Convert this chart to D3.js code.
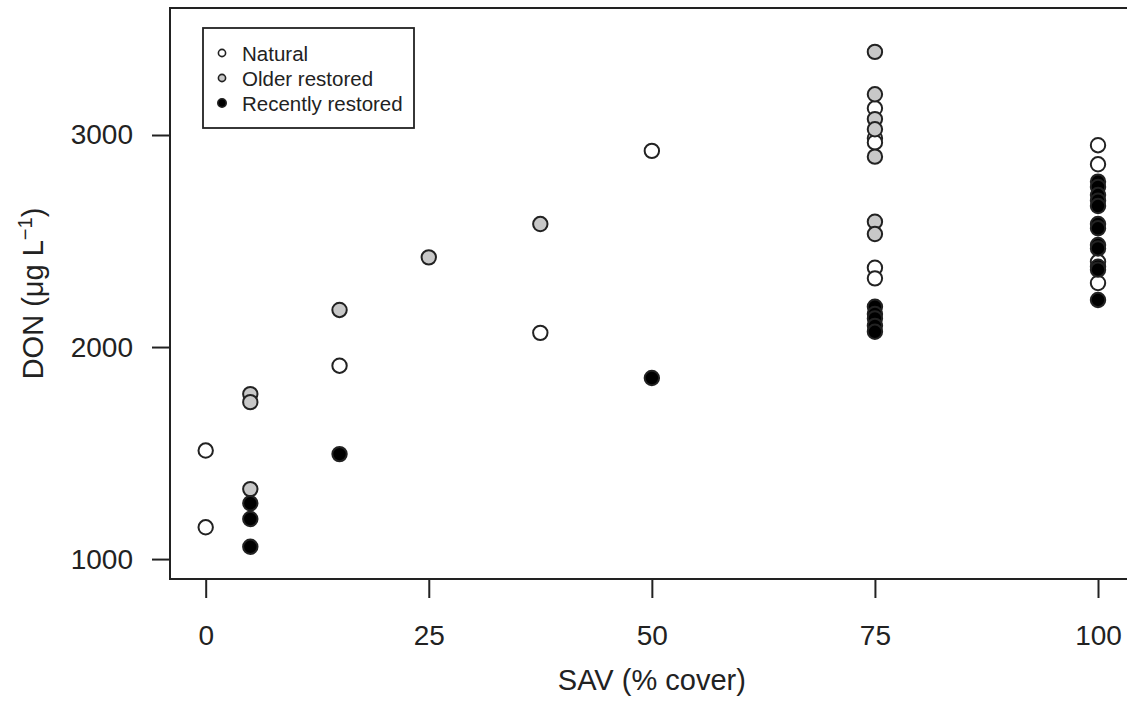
<!DOCTYPE html>
<html>
<head>
<meta charset="utf-8">
<script src="https://cdn.jsdelivr.net/npm/d3@7"></script>
<style>
  html, body { margin: 0; padding: 0; background: #fff; }
  svg { display: block; font-family: "Liberation Sans", Arial, sans-serif; }
</style>
</head>
<body>
<svg id="chart" width="1127" height="702"></svg>
<script>
// SAV cover (%) and DON (µg/L) for each site type
const naturalX = [0, 0, 15, 37.5, 50, 75, 75, 75, 75, 75, 100, 100, 100, 100];
const naturalY = [1512, 1150, 1912, 2067, 2925, 3126, 2985, 2965, 2374, 2324, 2952, 2862, 2402, 2302];

const olderX = [5, 5, 5, 15, 25, 37.5, 75, 75, 75, 75, 75, 75, 75];
const olderY = [1778, 1740, 1330, 2175, 2423, 2580, 3392, 3192, 3075, 3027, 2898, 2591, 2533];

const recentX = [5, 5, 5, 15, 50, 75, 75, 75, 75, 75, 100, 100, 100, 100, 100, 100, 100, 100, 100, 100, 100, 100];
const recentY = [1263, 1189, 1058, 1495, 1854, 2190, 2156, 2135, 2100, 2072, 2780, 2755, 2717, 2690, 2665, 2580, 2560, 2481, 2465, 2379, 2365, 2222];

const xTicks = [0, 25, 50, 75, 100];
const yTicks = [1000, 2000, 3000];

const groupNames = ["Natural", "Older restored", "Recently restored"];
const groupFills = ["#ffffff", "#c8c8c8", "#000000"];

const svg = d3.select("#chart");

const x = d3.scaleLinear().domain([-4, 104]).range([170, 1133.7]);
const y = d3.scaleLinear().domain([906, 3599]).range([579, 8]);

// plotting frame
svg.append("rect")
  .attr("x", x.range()[0]).attr("y", y.range()[1])
  .attr("width", x.range()[1] - x.range()[0])
  .attr("height", y.range()[0] - y.range()[1])
  .attr("fill", "none").attr("stroke", "#222").attr("stroke-width", 2);

// axes
const xAxis = svg.append("g")
  .attr("transform", `translate(0,${y.range()[0]})`)
  .call(d3.axisBottom(x).tickValues(xTicks).tickSize(19).tickPadding(27).tickSizeOuter(0));
const yAxis = svg.append("g")
  .attr("transform", `translate(${x.range()[0]},0)`)
  .call(d3.axisLeft(y).tickValues(yTicks).tickFormat(d3.format("d")).tickSize(18).tickPadding(19).tickSizeOuter(0));

[xAxis, yAxis].forEach(g => {
  g.select(".domain").remove();
  g.selectAll(".tick line").attr("stroke", "#222").attr("stroke-width", 2);
  g.selectAll(".tick text")
    .attr("fill", "#222")
    .style("font-size", "28px")
    .style("font-family", "'Liberation Sans', Arial, sans-serif");
});

// axis titles
svg.append("text")
  .attr("x", (x.range()[0] + x.range()[1]) / 2)
  .attr("y", 690)
  .attr("text-anchor", "middle")
  .attr("fill", "#222")
  .style("font-size", "29px")
  .text("SAV (% cover)");

const yTitle = svg.append("text")
  .attr("transform", `translate(43,${(y.range()[0] + y.range()[1]) / 2}) rotate(-90)`)
  .attr("text-anchor", "middle")
  .attr("fill", "#222")
  .style("font-size", "29px");
yTitle.append("tspan").text("DON (μg L");
yTitle.append("tspan").attr("dy", -11).style("font-size", "20px").text("−1");
yTitle.append("tspan").attr("dy", 11).text(")");

// points
const groups = [
  { xs: naturalX, ys: naturalY },
  { xs: olderX, ys: olderY },
  { xs: recentX, ys: recentY }
];
groups.forEach((g, i) => {
  svg.append("g")
    .selectAll("circle")
    .data(g.xs.map((v, k) => [v, g.ys[k]]))
    .join("circle")
    .attr("cx", d => x(d[0]))
    .attr("cy", d => y(d[1]))
    .attr("r", 7.2)
    .attr("fill", groupFills[i])
    .attr("stroke", "#222")
    .attr("stroke-width", 2);
});

// legend
const legend = svg.append("g");
legend.append("rect")
  .attr("x", 203).attr("y", 28).attr("width", 211).attr("height", 100)
  .attr("fill", "#fff").attr("stroke", "#222").attr("stroke-width", 1.8);
groupNames.forEach((name, i) => {
  const cy = 53 + i * 25;
  legend.append("circle")
    .attr("cx", 222).attr("cy", cy)
    .attr("r", i === 2 ? 4.2 : 3.6)
    .attr("fill", groupFills[i])
    .attr("stroke", "#222").attr("stroke-width", 1.6);
  legend.append("text")
    .attr("x", 242).attr("y", cy + 7.5)
    .attr("fill", "#222")
    .style("font-size", "20.5px")
    .text(name);
});
</script>
</body>
</html>
